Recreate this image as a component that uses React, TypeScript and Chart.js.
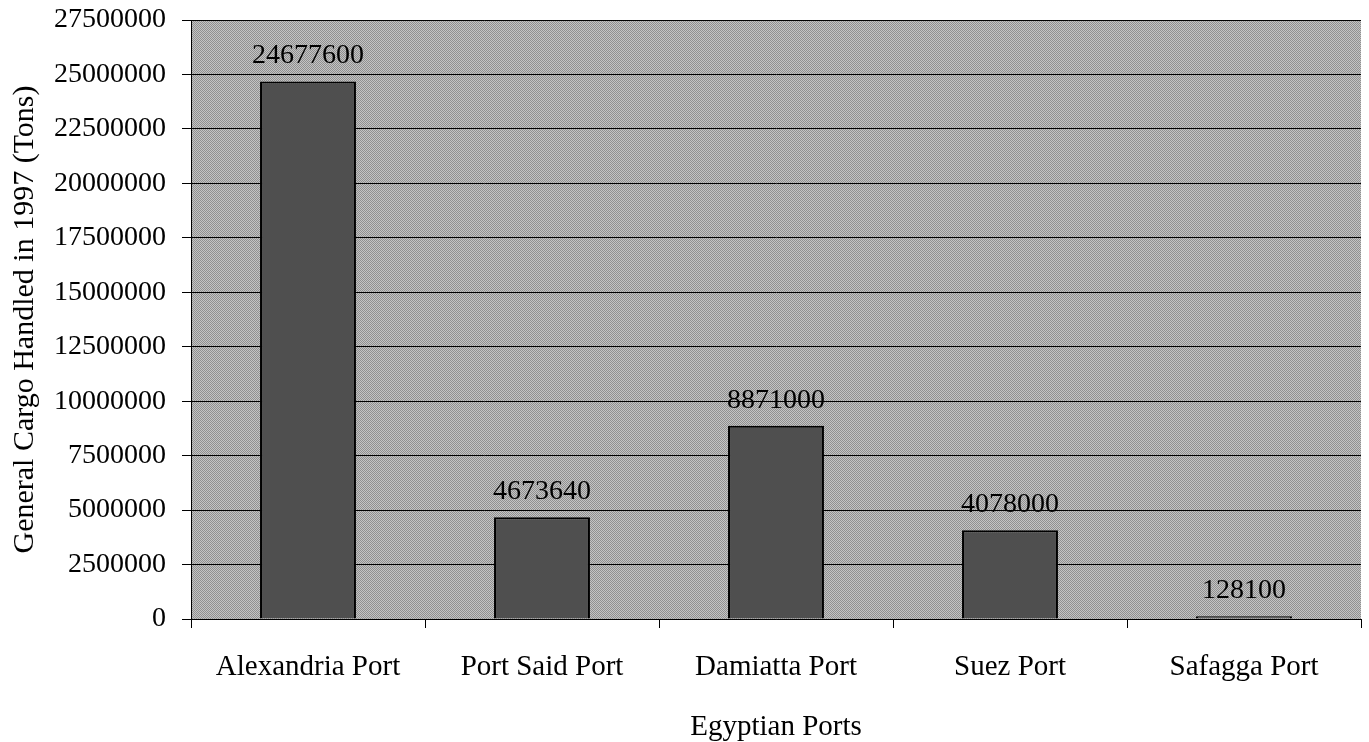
import React, { useEffect, useRef } from "react";
import { Chart, registerables } from "chart.js";

Chart.register(...registerables);

// General cargo handled at Egyptian ports in 1997 (tons)
const ports: string[] = [
  "Alexandria Port",
  "Port Said Port",
  "Damiatta Port",
  "Suez Port",
  "Safagga Port",
];
const cargoTons: number[] = [24677600, 4673640, 8871000, 4078000, 128100];

const yMin = 0;
const yMax = 27500000;
const yStep = 2500000;

const SERIF = "'Liberation Serif', 'Times New Roman', serif";

// Fine two-tone dither used to fill the plotting area
function makeDither(ctx: CanvasRenderingContext2D): CanvasPattern | string {
  const tile = document.createElement("canvas");
  tile.width = 2;
  tile.height = 2;
  const t = tile.getContext("2d");
  if (!t) return "#a9a9a9";
  t.fillStyle = "#c4c4c4";
  t.fillRect(0, 0, 2, 2);
  t.fillStyle = "#909090";
  t.fillRect(0, 0, 1, 1);
  t.fillRect(1, 1, 1, 1);
  return ctx.createPattern(tile, "repeat") || "#a9a9a9";
}

const plotBackground = {
  id: "plotBackground",
  beforeDraw(chart: Chart) {
    const { ctx, chartArea } = chart;
    if (!chartArea) return;
    ctx.save();
    ctx.fillStyle = makeDither(ctx);
    ctx.fillRect(
      chartArea.left,
      chartArea.top,
      chartArea.right - chartArea.left,
      chartArea.bottom - chartArea.top
    );
    ctx.restore();
  },
};

// Value printed above each bar
const barValues = {
  id: "barValues",
  afterDatasetsDraw(chart: Chart) {
    const { ctx } = chart;
    const meta = chart.getDatasetMeta(0);
    const data = chart.data.datasets[0].data as number[];
    ctx.save();
    ctx.fillStyle = "#000";
    ctx.font = `28px ${SERIF}`;
    ctx.textAlign = "center";
    ctx.textBaseline = "alphabetic";
    meta.data.forEach((bar: any, i: number) => {
      ctx.fillText(String(data[i]), bar.x, bar.y - 18);
    });
    ctx.restore();
  },
};

export default function App() {
  const canvasRef = useRef<HTMLCanvasElement | null>(null);

  useEffect(() => {
    document.body.style.margin = "0";
    const canvas = canvasRef.current;
    if (!canvas) return;

    const chart = new Chart(canvas, {
      type: "bar",
      data: {
        labels: ports,
        datasets: [
          {
            data: cargoTons,
            backgroundColor: "#4f4f4f",
            borderColor: "#000000",
            borderWidth: 2,
            categoryPercentage: 1,
            barPercentage: 0.41,
          },
        ],
      },
      options: {
        responsive: false,
        animation: false,
        layout: { padding: { top: 20, right: 8, left: 0, bottom: 0 } },
        plugins: {
          legend: { display: false },
          tooltip: { enabled: false },
        },
        scales: {
          x: {
            grid: {
              display: true,
              drawOnChartArea: false,
              drawTicks: true,
              tickLength: 9,
              color: "#000",
              offset: true,
            },
            border: { display: true, color: "#000", width: 1 },
            ticks: {
              color: "#000",
              font: { family: SERIF, size: 29 },
              padding: 22,
              maxRotation: 0,
              autoSkip: false,
            },
            title: {
              display: true,
              text: "Egyptian Ports",
              color: "#000",
              font: { family: SERIF, size: 29, lineHeight: 1 },
              padding: { top: 0, bottom: 0 },
            },
            afterFit(scale: any) {
              scale.height = 123;
              scale.paddingLeft = 0;
              scale.paddingRight = 0;
            },
          },
          y: {
            min: yMin,
            max: yMax,
            grid: {
              color: "#000",
              lineWidth: 1,
              drawTicks: true,
              tickLength: 9,
            },
            border: { display: true, color: "#000", width: 1 },
            ticks: {
              stepSize: yStep,
              color: "#000",
              font: { family: SERIF, size: 28 },
              padding: 16,
              callback: (v: any) => String(v),
            },
            title: {
              display: true,
              text: "General Cargo Handled in 1997 (Tons)",
              color: "#000",
              font: { family: SERIF, size: 30, lineHeight: 1 },
              padding: { top: 10, bottom: 0 },
            },
            afterFit(scale: any) {
              scale.width = 191;
              scale.paddingTop = 0;
              scale.paddingBottom = 0;
            },
          },
        },
      },
      plugins: [plotBackground, barValues],
    });

    return () => chart.destroy();
  }, []);

  return (
    <div style={{ width: 1369, height: 742 }}>
      <canvas ref={canvasRef} width={1369} height={742} style={{ display: "block" }} />
    </div>
  );
}
